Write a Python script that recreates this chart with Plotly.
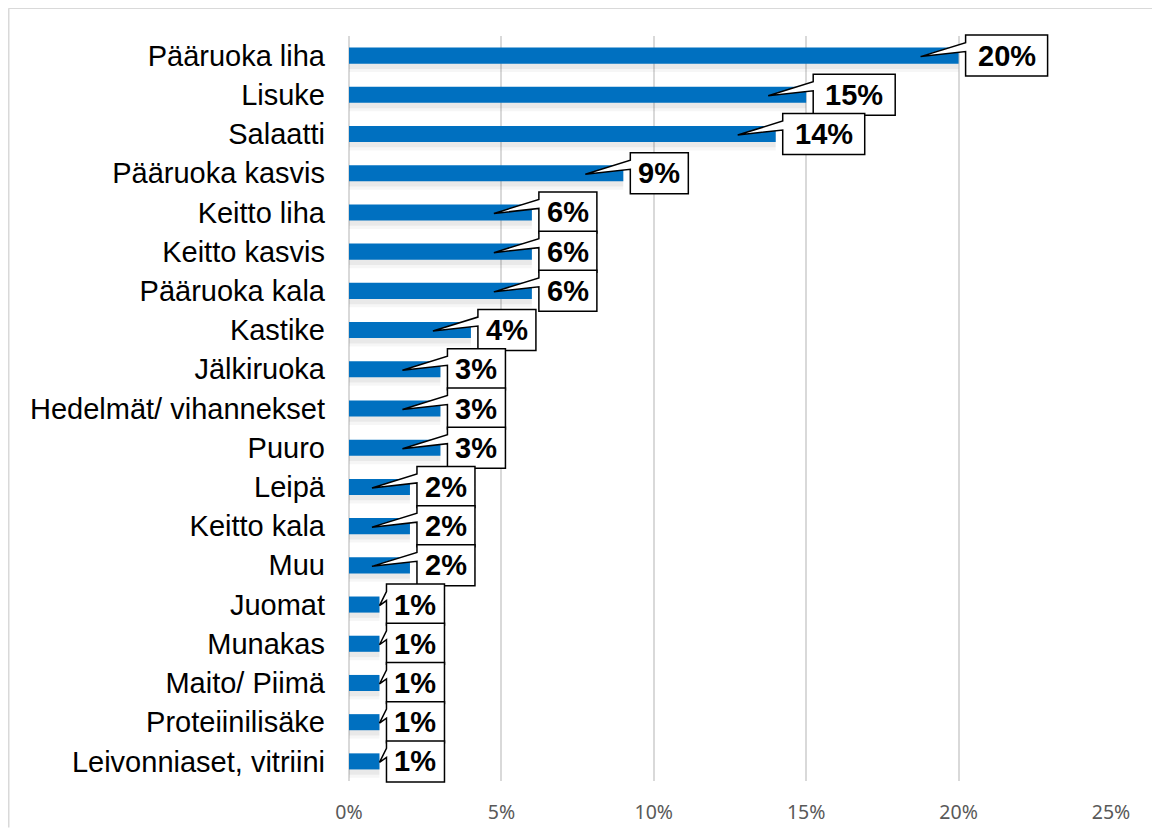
import plotly.graph_objects as go

categories = ["Pääruoka liha", "Lisuke", "Salaatti", "Pääruoka kasvis", "Keitto liha",
              "Keitto kasvis", "Pääruoka kala", "Kastike", "Jälkiruoka",
              "Hedelmät/ vihannekset", "Puuro", "Leipä", "Keitto kala", "Muu",
              "Juomat", "Munakas", "Maito/ Piimä", "Proteiinilisäke",
              "Leivonniaset, vitriini"]
shares = [20, 15, 14, 9, 6, 6, 6, 4, 3, 3, 3, 2, 2, 2, 1, 1, 1, 1, 1]
share_labels = [f"{v}%" for v in shares]
x_ticks = [0, 5, 10, 15, 20, 25]
x_tick_text = ["0%", "5%", "10%", "15%", "20%", "25%"]

# page body has an 8px margin, so the figure is a bit smaller than the window
W, H = 1144, 820
L, R, T, B = 341, 41, 28.4, 46.6
x_max = 25
plot_w = W - L - R
plot_h = H - T - B
px_per_unit = plot_w / x_max
n = len(categories)

fig = go.Figure()

# soft shadow under the bars
for off, wid, col in [(-0.14, 0.56, "rgba(0,0,0,0.035)"), (-0.08, 0.42, "rgba(0,0,0,0.05)")]:
    fig.add_trace(go.Bar(x=shares, y=categories, orientation="h",
                         marker=dict(color=col, line_width=0),
                         offset=off, width=wid, hoverinfo="skip", showlegend=False))

fig.add_trace(go.Bar(x=shares, y=categories, orientation="h",
                     marker=dict(color="#0070C0", line_width=0),
                     offset=-0.205, width=0.41, showlegend=False))

# callout boxes with a pointer (pixel offsets from the bar tip)
shapes = []
annotations = []
hh = 20.5
bx = 7
for i, (v, lab) in enumerate(zip(shares, share_labels)):
    bw = 10 + 24 * len(lab)
    ax = -38 if v * px_per_unit > 45 else 0
    pts = [(bx, -hh), (bx + bw, -hh), (bx + bw, hh), (bx, hh),
           (bx, -4), (ax, 1), (bx, -13)]
    path = "M " + " L ".join(f"{px},{-py}" for px, py in pts) + " Z"
    xa = v / x_max
    ya = 1 - (i + 0.5) / n
    shapes.append(dict(type="path", xref="paper", yref="paper",
                       xsizemode="pixel", ysizemode="pixel",
                       xanchor=xa, yanchor=ya, path=path, fillcolor="white",
                       line=dict(color="black", width=1.5), layer="above"))
    annotations.append(dict(x=xa, y=ya, xref="paper", yref="paper", text=f"<b>{lab}</b>",
                            xanchor="center", yanchor="middle",
                            showarrow=False, xshift=bx + bw / 2, yshift=0,
                            font=dict(family="Liberation Sans, Arial", size=29, color="black")))

# outer chart border (left and top edges are the visible ones)
x_left = (0.75 - L) / plot_w
y_top = 1 + (T - 0.75) / plot_h
shapes.append(dict(type="line", xref="paper", yref="paper", x0=x_left, x1=x_left,
                   y0=-B / plot_h, y1=y_top, line=dict(color="#d9d9d9", width=1.5), layer="below"))
shapes.append(dict(type="line", xref="paper", yref="paper", x0=x_left, x1=1 + R / plot_w,
                   y0=y_top, y1=y_top, line=dict(color="#d9d9d9", width=1.5), layer="below"))

fig.update_layout(
    width=W, height=H,
    margin=dict(l=L, r=R, t=T, b=B),
    paper_bgcolor="white", plot_bgcolor="white",
    barmode="overlay",
    shapes=shapes, annotations=annotations,
    font=dict(family="Liberation Sans, Arial", color="black"),
)
fig.update_xaxes(range=[0, x_max], tickvals=x_ticks, ticktext=x_tick_text,
                 showgrid=True, gridcolor="#d9d9d9", gridwidth=1.5,
                 zeroline=True, zerolinecolor="#d9d9d9", zerolinewidth=1.5,
                 showline=False, ticks="", ticklabelstandoff=17, automargin=False,
                 tickfont=dict(family="Noto Sans", size=19.5, color="#595959"))
fig.update_yaxes(type="category", categoryorder="array", categoryarray=categories,
                 range=[n - 0.5, -0.5], showgrid=False, zeroline=False,
                 showline=False, ticks="", ticklabelstandoff=23, automargin=False,
                 tickfont=dict(family="Liberation Sans, Arial", size=29, color="black"))

fig.write_html("out.html")
